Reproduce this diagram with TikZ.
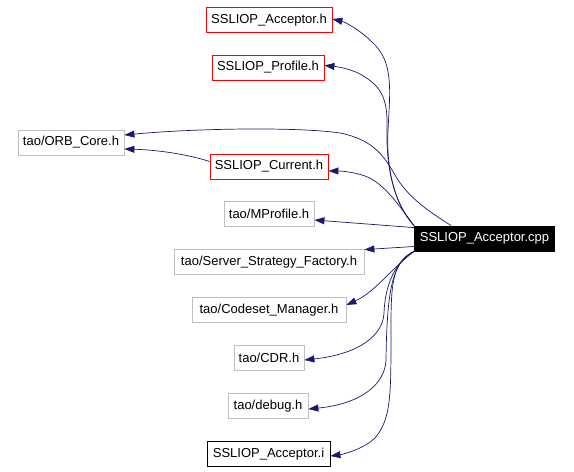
\documentclass[tikz,border=0pt]{standalone}
\usepackage{fontspec}
\setmainfont{Liberation Sans}
\usetikzlibrary{arrows.meta}
\definecolor{edgecol}{HTML}{191970}
\definecolor{graybd}{HTML}{BFBFBF}
\definecolor{redbd}{HTML}{FF0000}
\begin{document}
\begin{tikzpicture}[x=1bp,y=-1bp,
  box/.style={draw, line width=0.8bp, minimum height=25bp, inner sep=0pt, font=\fontsize{13bp}{15bp}\selectfont},
  redbox/.style={box, draw=redbd},
  graybox/.style={box, draw=graybd},
  blackbox/.style={box, draw=black},
  mainbox/.style={box, draw=black, fill=black, text=white},
  edge/.style={draw=edgecol, line width=0.7bp, -{Triangle[length=10bp,width=7bp]}, fill=none},
  ]
\useasboundingbox (0,0) rectangle (574,472);
\node[redbox, minimum width=126bp] (acch) at (269,20) {SSLIOP\_Acceptor.h};
\node[redbox, minimum width=112bp] (prof) at (268,67.5) {SSLIOP\_Profile.h};
\node[graybox, minimum width=106bp] (orb) at (71,142.5) {tao/ORB\_Core.h};
\node[redbox, minimum width=118bp] (cur) at (269,166.5) {SSLIOP\_Current.h};
\node[graybox, minimum width=90bp] (mprof) at (269,214) {tao/MProfile.h};
\node[mainbox, minimum width=140bp] (cpp) at (484.5,238.5) {SSLIOP\_Acceptor.cpp};
\node[graybox, minimum width=190bp] (server) at (269,262) {tao/Server\_Strategy\_Factory.h};
\node[graybox, minimum width=154bp] (codeset) at (269,310) {tao/Codeset\_Manager.h};
\node[graybox, minimum width=70bp] (cdr) at (269,358) {tao/CDR.h};
\node[graybox, minimum width=80bp] (debug) at (268,406) {tao/debug.h};
\node[blackbox, minimum width=123bp] (acci) at (268.5,454) {SSLIOP\_Acceptor.i};

\path[edge] (cpp.north west) .. controls (395,205) and (386,170) .. (388,130)
  .. controls (390,90) and (394,62) .. (372,42)
  .. controls (360,30) and (345,22) .. ([yshift=1bp]acch.east);
\path[edge] (cpp.north west) .. controls (395,205) and (386,170) .. (387,130)
  .. controls (388,100) and (382,88) .. (365,77)
  .. controls (355,70) and (340,67) .. ([yshift=2bp]prof.east);
\path[edge] ([xshift=37bp]cpp.north west) .. controls (430,212) and (408,198) .. (395,175)
  .. controls (385,158) and (375,140) .. (340,133)
  .. controls (300,127) and (200,128) .. ([yshift=7.5bp]orb.east);
\path[edge] (cpp.north west) .. controls (395,200) and (382,181) .. (362,175)
  .. controls (352,172) and (342,171) .. ([yshift=-4.5bp]cur.east);
\path[edge] ([yshift=5bp]cur.west) .. controls (190,155) and (160,150) .. ([yshift=-6.5bp]orb.east);
\path[edge] ([yshift=-2bp]cpp.north west) -- ([yshift=-6bp]mprof.east);
\path[edge] ([yshift=-8bp]cpp.west) -- ([yshift=-0.5bp]server.north east);
\path[edge] (cpp.south west) .. controls (392,268) and (375,292) .. ([yshift=5bp]codeset.east);
\path[edge] (cpp.south west) .. controls (395,262) and (385,285) .. (384,313)
  .. controls (383,335) and (360,354) .. ([yshift=-2bp]cdr.east);
\path[edge] (cpp.south west) .. controls (392,262) and (387,290) .. (386,360)
  .. controls (385,385) and (360,404) .. ([yshift=-3bp]debug.east);
\path[edge] (cpp.south west) .. controls (390,262) and (391,290) .. (391,340)
  .. controls (391,400) and (390,420) .. (375,438)
  .. controls (365,448) and (345,454) .. ([yshift=-2bp]acci.east);
\end{tikzpicture}
\end{document}
